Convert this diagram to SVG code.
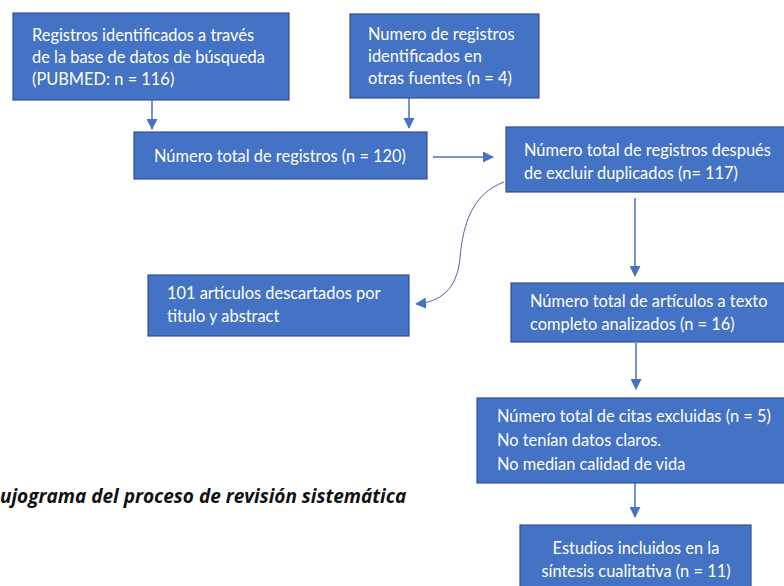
<svg xmlns="http://www.w3.org/2000/svg" width="784" height="586" viewBox="0 0 784 586">
<defs>
<style>
.box{fill:#4472C4;stroke:#2F528F;stroke-width:1.2}
.t{font-family:Lato,"Liberation Sans",sans-serif;font-size:16.4px;fill:#ffffff}
.c{text-anchor:middle}
.ln{stroke:#4472C4;stroke-width:1.5;fill:none}
.cv{stroke:#5a5fa8;stroke-width:1;fill:none}
.cap{font-family:"Open Sans","Liberation Sans",sans-serif;font-size:19px;font-weight:bold;font-style:italic;fill:#111111}
</style>
<marker id="ah" markerWidth="11" markerHeight="11" refX="10" refY="5.5" orient="auto" markerUnits="userSpaceOnUse">
<path d="M0,0 L11,5.5 L0,11 Z" fill="#4472C4"/>
</marker>
</defs>
<rect width="784" height="586" fill="#ffffff"/>
<g id="connectors">
<line class="ln" x1="152" y1="100" x2="152" y2="129" marker-end="url(#ah)"/>
<line class="ln" x1="409" y1="98" x2="409" y2="128" marker-end="url(#ah)"/>
<line class="ln" x1="433" y1="157" x2="493" y2="157" marker-end="url(#ah)"/>
<path class="cv" d="M504,182 C472,194 463,224 460,258 C457,290 440,302 416,304" marker-end="url(#ah)"/>
<line class="ln" x1="635" y1="198" x2="635" y2="276" marker-end="url(#ah)"/>
<line class="ln" x1="636" y1="343" x2="636" y2="389" marker-end="url(#ah)"/>
<line class="ln" x1="635" y1="483" x2="635" y2="517" marker-end="url(#ah)"/>
</g>
<g id="n1">
<rect class="box" x="13" y="13" width="276" height="87"/>
<text class="t" x="32" y="41">Registros identificados a través</text>
<text class="t" x="32" y="63">de la base de datos de búsqueda</text>
<text class="t" x="32" y="85">(PUBMED: n = 116)</text>
</g>
<g id="n2">
<rect class="box" x="350" y="14" width="189" height="84"/>
<text class="t" x="368" y="40">Numero de registros</text>
<text class="t" x="368" y="62">identificados en</text>
<text class="t" x="368" y="84">otras fuentes (n = 4)</text>
</g>
<g id="n3">
<rect class="box" x="134" y="132" width="293" height="47"/>
<text class="t c" x="280" y="162">Número total de registros (n = 120)</text>
</g>
<g id="n4">
<rect class="box" x="506" y="127" width="290" height="65"/>
<text class="t" x="524" y="156">Número total de registros después</text>
<text class="t" x="524" y="179">de excluir duplicados (n= 117)</text>
</g>
<g id="n5">
<rect class="box" x="148" y="275" width="261" height="61"/>
<text class="t" x="167" y="299">101 artículos descartados por</text>
<text class="t" x="167" y="322">titulo y abstract</text>
</g>
<g id="n6">
<rect class="box" x="511" y="283" width="285" height="59"/>
<text class="t" x="530" y="307">Número total de artículos a texto</text>
<text class="t" x="530" y="330">completo analizados (n = 16)</text>
</g>
<g id="n7">
<rect class="box" x="477" y="398" width="319" height="85"/>
<text class="t" x="497" y="422">Número total de citas excluidas (n = 5)</text>
<text class="t" x="497" y="446">No tenían datos claros.</text>
<text class="t" x="497" y="470">No median calidad de vida</text>
</g>
<g id="n8">
<rect class="box" x="520" y="525" width="231" height="70"/>
<text class="t c" x="636" y="554">Estudios incluidos en la</text>
<text class="t c" x="636" y="577">síntesis cualitativa (n = 11)</text>
</g>
<text class="cap" x="0" y="503">ujograma del proceso de revisión sistemática</text>
</svg>
